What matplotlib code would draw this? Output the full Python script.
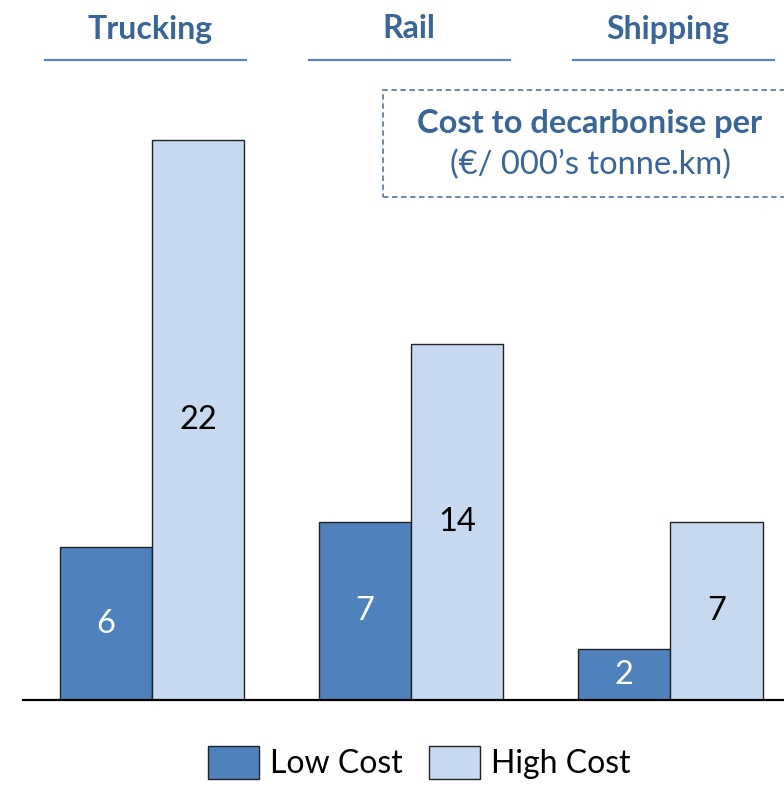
import matplotlib.pyplot as plt
from matplotlib.patches import Rectangle

modes = ["Trucking", "Rail", "Shipping"]
low_cost = [6, 7, 2]
high_cost = [22, 14, 7]
series_names = ["Low Cost", "High Cost"]
box_title = "Cost to decarbonise per"
box_unit = "(€/ 000\u2019s tonne.km)"

LOW = "#4f81bd"
HIGH = "#c6d9f0"
HEAD = "#3a6599"

plt.rcParams['font.family'] = ['Lato', 'DejaVu Sans']

W, H = 784, 786
fig = plt.figure(figsize=(W / 100, H / 100), dpi=100)

# bar axes: left edge at 23px, baseline at 700px from top
ax = fig.add_axes([23 / W, (H - 700) / H, (W - 23) / W, 700 / H])
ax.set_ylim(0, 27.5)
ax.set_xlim(-0.498, 2.44)
for s in ["top", "right", "left"]:
    ax.spines[s].set_visible(False)
ax.spines["bottom"].set_linewidth(1.6)
ax.set_xticks([])
ax.set_yticks([])

x = range(len(modes))
w = 0.357
b1 = ax.bar([i - w / 2 for i in x], low_cost, w, color=LOW, edgecolor="#222222",
            linewidth=1.0, label=series_names[0])
b2 = ax.bar([i + w / 2 for i in x], high_cost, w, color=HIGH, edgecolor="#222222",
            linewidth=1.0, label=series_names[1])

for i in x:
    ax.text(i - w / 2, low_cost[i] / 2, str(low_cost[i]), ha="center", va="center",
            color="white", fontsize=23.5)
    ax.text(i + w / 2, high_cost[i] / 2, str(high_cost[i]), ha="center", va="center",
            color="black", fontsize=23.5)

# column headers with an underline
for i, name in enumerate(modes):
    cx = ax.transData.transform((i, 0))[0]
    fig.text(cx / W - 0.003, 1 - 29 / H, name, ha="center", va="center",
             fontsize=23, fontweight="bold", color=HEAD)
    left = 45 + i * 264
    fig.add_artist(plt.Line2D([left / W, (left + 201) / W], [1 - 60 / H, 1 - 60 / H],
                              color="#5a86bf", linewidth=1.6))

# dashed unit box running off the right edge
fig.add_artist(Rectangle((383 / W, 1 - 197 / H), 430 / W, 107 / H, fill=False,
                         edgecolor="#5f7fa8", linewidth=1.3, linestyle=(0, (3, 2))))
fig.text(590 / W, 1 - 123 / H, box_title, ha="center", va="center",
         fontsize=23.5, fontweight="bold", color=HEAD)
fig.text(590 / W, 1 - 165 / H, box_unit, ha="center", va="center",
         fontsize=23.5, color=HEAD)

fig.legend(handles=[b1, b2], labels=series_names, loc="upper center",
           bbox_to_anchor=(0.535, 1 - 730 / H), ncol=2, frameon=False,
           fontsize=23, handlelength=1.6, handleheight=1.2, handletextpad=0.35,
           columnspacing=0.8, borderpad=0)

fig.savefig("out.png", dpi=100)
